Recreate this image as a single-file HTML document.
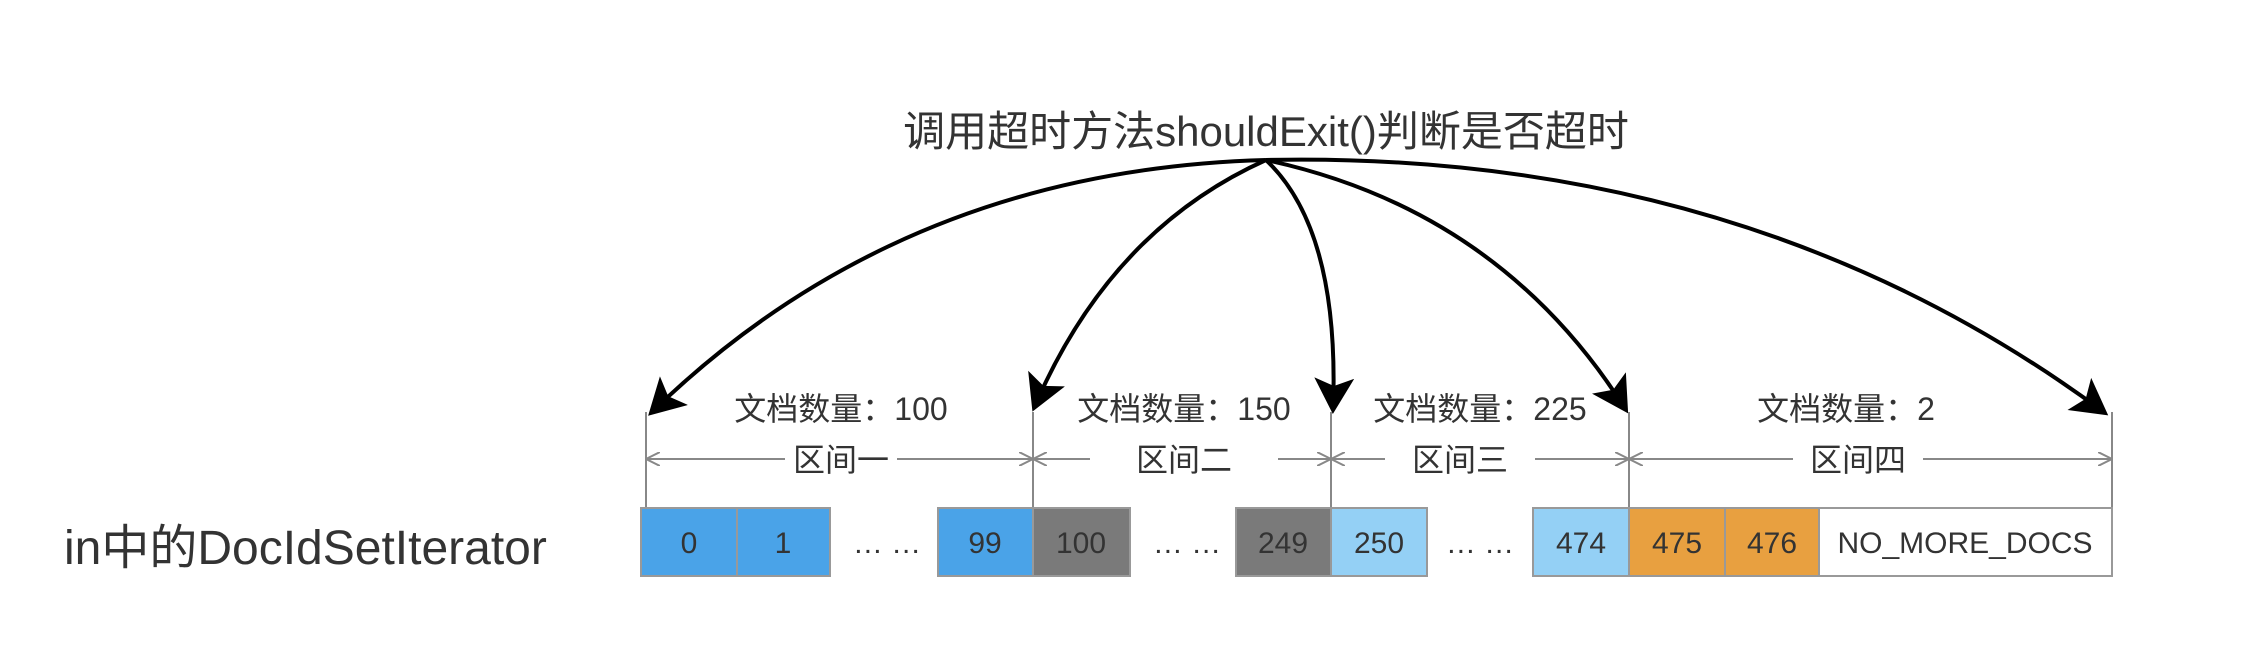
<!DOCTYPE html>
<html><head><meta charset="utf-8"><style>
html,body{margin:0;padding:0;background:#fff;}
svg{display:block;}
text{font-family:"Liberation Sans","Noto Sans CJK SC",sans-serif;fill:#333;}
</style></head><body>
<svg width="2242" height="658" viewBox="0 0 2242 658" xmlns="http://www.w3.org/2000/svg">
<defs>
<marker id="ah" markerWidth="10" markerHeight="10" refX="8" refY="5" orient="auto" markerUnits="strokeWidth">
<path d="M0,0 L9,5 L0,10 L2,5 Z" fill="#000"/>
</marker>
<marker id="oa" markerWidth="14" markerHeight="14" refX="0" refY="7" orient="auto" markerUnits="userSpaceOnUse">
<path d="M14,0 L0,7 L14,14" fill="none" stroke="#888" stroke-width="2"/>
</marker>
<marker id="oe" markerWidth="14" markerHeight="14" refX="14" refY="7" orient="auto" markerUnits="userSpaceOnUse">
<path d="M0,0 L14,7 L0,14" fill="none" stroke="#888" stroke-width="2"/>
</marker>
</defs>

<text x="1266" y="146" font-size="42" text-anchor="middle">调用超时方法shouldExit()判断是否超时</text>

<g fill="none" stroke="#000" stroke-width="4" marker-end="url(#ah)">
<path d="M1266,160 Q900,170 651,413"/>
<path d="M1266,160 Q1110,230 1034,408"/>
<path d="M1266,160 Q1340,230 1333,410"/>
<path d="M1266,160 Q1500,210 1626,410"/>
<path d="M1266,160 Q1750,150 2105,413"/>
</g>

<g font-size="32" text-anchor="middle">
<text x="841" y="420">文档数量：100</text>
<text x="1184" y="420">文档数量：150</text>
<text x="1480" y="420">文档数量：225</text>
<text x="1846" y="420">文档数量：2</text>
</g>

<g stroke="#888" stroke-width="2">
<line x1="646" y1="412" x2="646" y2="508"/>
<line x1="1033" y1="412" x2="1033" y2="508"/>
<line x1="1331" y1="412" x2="1331" y2="508"/>
<line x1="1629" y1="412" x2="1629" y2="508"/>
<line x1="2112" y1="412" x2="2112" y2="508"/>
<line x1="646" y1="459" x2="785" y2="459" marker-start="url(#oa)"/>
<line x1="897" y1="459" x2="1033" y2="459" marker-end="url(#oe)"/>
<line x1="1033" y1="459" x2="1090" y2="459" marker-start="url(#oa)"/>
<line x1="1278" y1="459" x2="1331" y2="459" marker-end="url(#oe)"/>
<line x1="1331" y1="459" x2="1385" y2="459" marker-start="url(#oa)"/>
<line x1="1535" y1="459" x2="1629" y2="459" marker-end="url(#oe)"/>
<line x1="1629" y1="459" x2="1793" y2="459" marker-start="url(#oa)"/>
<line x1="1923" y1="459" x2="2112" y2="459" marker-end="url(#oe)"/>
</g>
<g font-size="32" text-anchor="middle">
<text x="841" y="471">区间一</text>
<text x="1184" y="471">区间二</text>
<text x="1460" y="471">区间三</text>
<text x="1858" y="471">区间四</text>
</g>

<text x="64" y="564" font-size="48">in中的DocIdSetIterator</text>

<g stroke="#999" stroke-width="2">
<rect x="641" y="508" width="96" height="68" fill="#4aa3e8"/>
<rect x="737" y="508" width="93" height="68" fill="#4aa3e8"/>
<rect x="938" y="508" width="95" height="68" fill="#4aa3e8"/>
<rect x="1033" y="508" width="97" height="68" fill="#7a7a7a"/>
<rect x="1236" y="508" width="95" height="68" fill="#7a7a7a"/>
<rect x="1331" y="508" width="96" height="68" fill="#94d0f5"/>
<rect x="1533" y="508" width="96" height="68" fill="#94d0f5"/>
<rect x="1629" y="508" width="96" height="68" fill="#e8a040"/>
<rect x="1725" y="508" width="94" height="68" fill="#e8a040"/>
<rect x="1819" y="508" width="293" height="68" fill="#fff"/>
</g>
<g font-size="30" text-anchor="middle">
<text x="689" y="553">0</text>
<text x="783" y="553">1</text>
<text x="887" y="553">… …</text>
<text x="985" y="553">99</text>
<text x="1081" y="553">100</text>
<text x="1187" y="553">… …</text>
<text x="1283" y="553">249</text>
<text x="1379" y="553">250</text>
<text x="1480" y="553">… …</text>
<text x="1581" y="553">474</text>
<text x="1677" y="553">475</text>
<text x="1772" y="553">476</text>
<text x="1965" y="553">NO_MORE_DOCS</text>
</g>
</svg>
</body></html>
